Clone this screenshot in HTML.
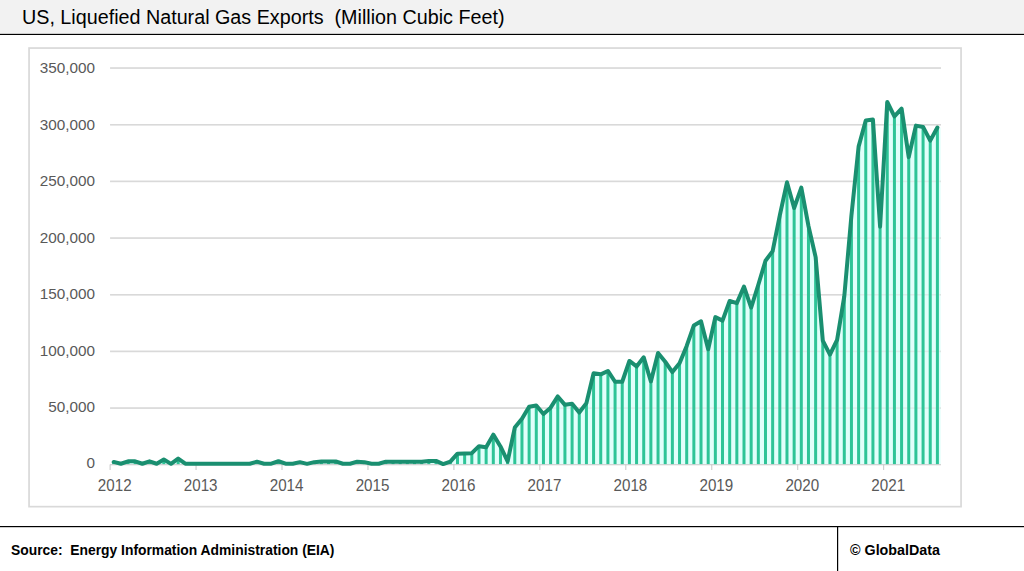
<!DOCTYPE html>
<html><head><meta charset="utf-8">
<style>
html,body{margin:0;padding:0;background:#fff;}
body{width:1024px;height:571px;overflow:hidden;position:relative;font-family:"Liberation Sans",sans-serif;}
svg{position:absolute;left:0;top:0;}
</style></head><body>
<svg width="1024" height="571" viewBox="0 0 1024 571">
<rect x="0" y="0" width="1024" height="33" fill="#f2f2f2"/>
<rect x="0" y="33.8" width="1024" height="1.2" fill="#000"/>
<text x="22" y="23.5" font-size="20" fill="#000" font-family="Liberation Sans" textLength="482.5" lengthAdjust="spacingAndGlyphs">US, Liquefied Natural Gas Exports&#160; (Million Cubic Feet)</text>
<rect x="29.05" y="48.05" width="932" height="458.6" fill="#fff" stroke="#d9d9d9" stroke-width="1.7"/>
<g fill="#d9d9d9"><rect x="110.1" y="407.33" width="830.9" height="1.5"/><rect x="110.1" y="350.66" width="830.9" height="1.5"/><rect x="110.1" y="293.99" width="830.9" height="1.5"/><rect x="110.1" y="237.32" width="830.9" height="1.5"/><rect x="110.1" y="180.65" width="830.9" height="1.5"/><rect x="110.1" y="123.98" width="830.9" height="1.5"/><rect x="110.1" y="67.31" width="830.9" height="1.5"/></g>
<path d="M113.68,464.75 L113.68,461.92 L120.84,463.73 L128.01,461.35 L135.17,461.35 L142.33,463.73 L149.49,461.35 L156.66,463.73 L163.82,459.54 L170.98,463.84 L178.15,458.52 L185.31,463.73 L192.47,463.73 L199.63,463.73 L206.80,463.73 L213.96,463.73 L221.12,463.73 L228.28,463.73 L235.45,463.73 L242.61,463.73 L249.77,463.73 L256.94,461.69 L264.10,463.73 L271.26,463.73 L278.42,461.24 L285.59,463.73 L292.75,463.73 L299.91,462.14 L307.07,463.84 L314.24,462.14 L321.40,461.46 L328.56,461.46 L335.73,461.46 L342.89,463.73 L350.05,463.73 L357.21,461.69 L364.38,462.14 L371.54,463.73 L378.70,463.73 L385.86,461.69 L393.03,461.69 L400.19,461.69 L407.35,461.69 L414.51,461.69 L421.68,461.69 L428.84,460.90 L436.00,460.90 L443.17,464.07 L450.33,461.58 L457.49,453.64 L464.65,453.42 L471.82,453.14 L478.98,446.15 L486.14,447.25 L493.30,434.65 L500.47,446.45 L507.63,461.45 L514.79,427.54 L521.96,418.85 L529.12,406.74 L536.28,405.44 L543.44,413.94 L550.61,407.64 L557.77,396.44 L564.93,404.84 L572.09,403.74 L579.26,412.55 L586.42,403.14 L593.58,373.34 L600.74,374.34 L607.91,370.94 L615.07,381.74 L622.23,381.74 L629.40,360.94 L636.56,366.44 L643.72,357.34 L650.88,381.45 L658.05,353.04 L665.21,361.74 L672.37,372.04 L679.53,363.33 L686.70,345.94 L693.86,325.43 L701.02,321.24 L708.19,349.26 L715.35,317.14 L722.51,320.64 L729.67,301.03 L736.84,303.14 L744.00,286.53 L751.16,307.54 L758.32,284.77 L765.49,260.74 L772.65,251.10 L779.81,215.42 L786.98,182.31 L794.14,208.01 L801.30,187.63 L808.46,225.92 L815.63,257.08 L822.79,340.54 L829.95,354.58 L837.11,339.91 L844.28,296.43 L851.44,215.40 L858.60,146.62 L865.76,120.41 L872.93,119.61 L880.09,226.72 L887.25,102.01 L894.42,116.41 L901.58,108.61 L908.74,157.12 L915.90,125.61 L923.07,126.92 L930.23,140.62 L937.39,127.52 L940.6,127.52 L940.6,464.75 Z" fill="#e1fffb"/>
<g fill="#d9d9d9" opacity="0.45"><rect x="110.1" y="407.33" width="830.9" height="1.5"/><rect x="110.1" y="350.66" width="830.9" height="1.5"/><rect x="110.1" y="293.99" width="830.9" height="1.5"/><rect x="110.1" y="237.32" width="830.9" height="1.5"/><rect x="110.1" y="180.65" width="830.9" height="1.5"/><rect x="110.1" y="123.98" width="830.9" height="1.5"/><rect x="110.1" y="67.31" width="830.9" height="1.5"/></g>
<g fill="#2ec497"><rect x="112.18" y="461.92" width="3.0" height="2.83"/><rect x="119.34" y="463.73" width="3.0" height="1.02"/><rect x="126.51" y="461.35" width="3.0" height="3.40"/><rect x="133.67" y="461.35" width="3.0" height="3.40"/><rect x="140.83" y="463.73" width="3.0" height="1.02"/><rect x="147.99" y="461.35" width="3.0" height="3.40"/><rect x="155.16" y="463.73" width="3.0" height="1.02"/><rect x="162.32" y="459.54" width="3.0" height="5.21"/><rect x="169.48" y="463.84" width="3.0" height="0.91"/><rect x="176.65" y="458.52" width="3.0" height="6.23"/><rect x="183.81" y="463.73" width="3.0" height="1.02"/><rect x="190.97" y="463.73" width="3.0" height="1.02"/><rect x="198.13" y="463.73" width="3.0" height="1.02"/><rect x="205.30" y="463.73" width="3.0" height="1.02"/><rect x="212.46" y="463.73" width="3.0" height="1.02"/><rect x="219.62" y="463.73" width="3.0" height="1.02"/><rect x="226.78" y="463.73" width="3.0" height="1.02"/><rect x="233.95" y="463.73" width="3.0" height="1.02"/><rect x="241.11" y="463.73" width="3.0" height="1.02"/><rect x="248.27" y="463.73" width="3.0" height="1.02"/><rect x="255.44" y="461.69" width="3.0" height="3.06"/><rect x="262.60" y="463.73" width="3.0" height="1.02"/><rect x="269.76" y="463.73" width="3.0" height="1.02"/><rect x="276.92" y="461.24" width="3.0" height="3.51"/><rect x="284.09" y="463.73" width="3.0" height="1.02"/><rect x="291.25" y="463.73" width="3.0" height="1.02"/><rect x="298.41" y="462.14" width="3.0" height="2.61"/><rect x="305.57" y="463.84" width="3.0" height="0.91"/><rect x="312.74" y="462.14" width="3.0" height="2.61"/><rect x="319.90" y="461.46" width="3.0" height="3.29"/><rect x="327.06" y="461.46" width="3.0" height="3.29"/><rect x="334.23" y="461.46" width="3.0" height="3.29"/><rect x="341.39" y="463.73" width="3.0" height="1.02"/><rect x="348.55" y="463.73" width="3.0" height="1.02"/><rect x="355.71" y="461.69" width="3.0" height="3.06"/><rect x="362.88" y="462.14" width="3.0" height="2.61"/><rect x="370.04" y="463.73" width="3.0" height="1.02"/><rect x="377.20" y="463.73" width="3.0" height="1.02"/><rect x="384.36" y="461.69" width="3.0" height="3.06"/><rect x="391.53" y="461.69" width="3.0" height="3.06"/><rect x="398.69" y="461.69" width="3.0" height="3.06"/><rect x="405.85" y="461.69" width="3.0" height="3.06"/><rect x="413.01" y="461.69" width="3.0" height="3.06"/><rect x="420.18" y="461.69" width="3.0" height="3.06"/><rect x="427.34" y="460.90" width="3.0" height="3.85"/><rect x="434.50" y="460.90" width="3.0" height="3.85"/><rect x="441.67" y="464.07" width="3.0" height="0.68"/><rect x="448.83" y="461.58" width="3.0" height="3.17"/><rect x="455.99" y="453.64" width="3.0" height="11.11"/><rect x="463.15" y="453.42" width="3.0" height="11.33"/><rect x="470.32" y="453.14" width="3.0" height="11.61"/><rect x="477.48" y="446.15" width="3.0" height="18.60"/><rect x="484.64" y="447.25" width="3.0" height="17.50"/><rect x="491.80" y="434.65" width="3.0" height="30.10"/><rect x="498.97" y="446.45" width="3.0" height="18.30"/><rect x="506.13" y="461.45" width="3.0" height="3.30"/><rect x="513.29" y="427.54" width="3.0" height="37.21"/><rect x="520.46" y="418.85" width="3.0" height="45.90"/><rect x="527.62" y="406.74" width="3.0" height="58.01"/><rect x="534.78" y="405.44" width="3.0" height="59.31"/><rect x="541.94" y="413.94" width="3.0" height="50.81"/><rect x="549.11" y="407.64" width="3.0" height="57.11"/><rect x="556.27" y="396.44" width="3.0" height="68.31"/><rect x="563.43" y="404.84" width="3.0" height="59.91"/><rect x="570.59" y="403.74" width="3.0" height="61.01"/><rect x="577.76" y="412.55" width="3.0" height="52.20"/><rect x="584.92" y="403.14" width="3.0" height="61.61"/><rect x="592.08" y="373.34" width="3.0" height="91.41"/><rect x="599.24" y="374.34" width="3.0" height="90.41"/><rect x="606.41" y="370.94" width="3.0" height="93.81"/><rect x="613.57" y="381.74" width="3.0" height="83.01"/><rect x="620.73" y="381.74" width="3.0" height="83.01"/><rect x="627.90" y="360.94" width="3.0" height="103.81"/><rect x="635.06" y="366.44" width="3.0" height="98.31"/><rect x="642.22" y="357.34" width="3.0" height="107.41"/><rect x="649.38" y="381.45" width="3.0" height="83.30"/><rect x="656.55" y="353.04" width="3.0" height="111.71"/><rect x="663.71" y="361.74" width="3.0" height="103.01"/><rect x="670.87" y="372.04" width="3.0" height="92.71"/><rect x="678.03" y="363.33" width="3.0" height="101.42"/><rect x="685.20" y="345.94" width="3.0" height="118.81"/><rect x="692.36" y="325.43" width="3.0" height="139.32"/><rect x="699.52" y="321.24" width="3.0" height="143.51"/><rect x="706.69" y="349.26" width="3.0" height="115.49"/><rect x="713.85" y="317.14" width="3.0" height="147.61"/><rect x="721.01" y="320.64" width="3.0" height="144.11"/><rect x="728.17" y="301.03" width="3.0" height="163.72"/><rect x="735.34" y="303.14" width="3.0" height="161.61"/><rect x="742.50" y="286.53" width="3.0" height="178.22"/><rect x="749.66" y="307.54" width="3.0" height="157.21"/><rect x="756.82" y="284.77" width="3.0" height="179.98"/><rect x="763.99" y="260.74" width="3.0" height="204.01"/><rect x="771.15" y="251.10" width="3.0" height="213.65"/><rect x="778.31" y="215.42" width="3.0" height="249.33"/><rect x="785.48" y="182.31" width="3.0" height="282.44"/><rect x="792.64" y="208.01" width="3.0" height="256.74"/><rect x="799.80" y="187.63" width="3.0" height="277.12"/><rect x="806.96" y="225.92" width="3.0" height="238.83"/><rect x="814.13" y="257.08" width="3.0" height="207.67"/><rect x="821.29" y="340.54" width="3.0" height="124.21"/><rect x="828.45" y="354.58" width="3.0" height="110.17"/><rect x="835.61" y="339.91" width="3.0" height="124.84"/><rect x="842.78" y="296.43" width="3.0" height="168.32"/><rect x="849.94" y="215.40" width="3.0" height="249.35"/><rect x="857.10" y="146.62" width="3.0" height="318.13"/><rect x="864.26" y="120.41" width="3.0" height="344.34"/><rect x="871.43" y="119.61" width="3.0" height="345.14"/><rect x="878.59" y="226.72" width="3.0" height="238.03"/><rect x="885.75" y="102.01" width="3.0" height="362.74"/><rect x="892.92" y="116.41" width="3.0" height="348.34"/><rect x="900.08" y="108.61" width="3.0" height="356.14"/><rect x="907.24" y="157.12" width="3.0" height="307.63"/><rect x="914.40" y="125.61" width="3.0" height="339.14"/><rect x="921.57" y="126.92" width="3.0" height="337.83"/><rect x="928.73" y="140.62" width="3.0" height="324.13"/><rect x="935.89" y="127.52" width="3.0" height="337.23"/></g>
<rect x="110.1" y="464.1" width="830.9" height="1.2" fill="#d0d0d0"/>
<g fill="#c8c8c8"><rect x="109.60" y="464.5" width="1" height="5.5"/><rect x="195.55" y="464.5" width="1" height="5.5"/><rect x="281.50" y="464.5" width="1" height="5.5"/><rect x="367.46" y="464.5" width="1" height="5.5"/><rect x="453.41" y="464.5" width="1" height="5.5"/><rect x="539.36" y="464.5" width="1" height="5.5"/><rect x="625.31" y="464.5" width="1" height="5.5"/><rect x="711.27" y="464.5" width="1" height="5.5"/><rect x="797.22" y="464.5" width="1" height="5.5"/><rect x="883.17" y="464.5" width="1" height="5.5"/></g>
<path d="M113.68,461.92 L120.84,463.73 L128.01,461.35 L135.17,461.35 L142.33,463.73 L149.49,461.35 L156.66,463.73 L163.82,459.54 L170.98,463.84 L178.15,458.52 L185.31,463.73 L192.47,463.73 L199.63,463.73 L206.80,463.73 L213.96,463.73 L221.12,463.73 L228.28,463.73 L235.45,463.73 L242.61,463.73 L249.77,463.73 L256.94,461.69 L264.10,463.73 L271.26,463.73 L278.42,461.24 L285.59,463.73 L292.75,463.73 L299.91,462.14 L307.07,463.84 L314.24,462.14 L321.40,461.46 L328.56,461.46 L335.73,461.46 L342.89,463.73 L350.05,463.73 L357.21,461.69 L364.38,462.14 L371.54,463.73 L378.70,463.73 L385.86,461.69 L393.03,461.69 L400.19,461.69 L407.35,461.69 L414.51,461.69 L421.68,461.69 L428.84,460.90 L436.00,460.90 L443.17,464.07 L450.33,461.58 L457.49,453.64 L464.65,453.42 L471.82,453.14 L478.98,446.15 L486.14,447.25 L493.30,434.65 L500.47,446.45 L507.63,461.45 L514.79,427.54 L521.96,418.85 L529.12,406.74 L536.28,405.44 L543.44,413.94 L550.61,407.64 L557.77,396.44 L564.93,404.84 L572.09,403.74 L579.26,412.55 L586.42,403.14 L593.58,373.34 L600.74,374.34 L607.91,370.94 L615.07,381.74 L622.23,381.74 L629.40,360.94 L636.56,366.44 L643.72,357.34 L650.88,381.45 L658.05,353.04 L665.21,361.74 L672.37,372.04 L679.53,363.33 L686.70,345.94 L693.86,325.43 L701.02,321.24 L708.19,349.26 L715.35,317.14 L722.51,320.64 L729.67,301.03 L736.84,303.14 L744.00,286.53 L751.16,307.54 L758.32,284.77 L765.49,260.74 L772.65,251.10 L779.81,215.42 L786.98,182.31 L794.14,208.01 L801.30,187.63 L808.46,225.92 L815.63,257.08 L822.79,340.54 L829.95,354.58 L837.11,339.91 L844.28,296.43 L851.44,215.40 L858.60,146.62 L865.76,120.41 L872.93,119.61 L880.09,226.72 L887.25,102.01 L894.42,116.41 L901.58,108.61 L908.74,157.12 L915.90,125.61 L923.07,126.92 L930.23,140.62 L937.39,127.52" fill="none" stroke="#1a8f70" stroke-width="4.0" stroke-linejoin="round" stroke-linecap="round"/>
<g font-size="15.3" fill="#595959" font-family="Liberation Sans" text-anchor="end"><text x="95" y="468.46">0</text><text x="95" y="411.98">50,000</text><text x="95" y="355.50">100,000</text><text x="95" y="299.02">150,000</text><text x="95" y="242.54">200,000</text><text x="95" y="186.06">250,000</text><text x="95" y="129.58">300,000</text><text x="95" y="73.10">350,000</text></g>
<g font-size="15.8" fill="#595959" font-family="Liberation Sans" text-anchor="middle"><text x="114.70" y="490.9" textLength="33.8" lengthAdjust="spacingAndGlyphs">2012</text><text x="200.65" y="490.9" textLength="33.8" lengthAdjust="spacingAndGlyphs">2013</text><text x="286.60" y="490.9" textLength="33.8" lengthAdjust="spacingAndGlyphs">2014</text><text x="372.56" y="490.9" textLength="33.8" lengthAdjust="spacingAndGlyphs">2015</text><text x="458.51" y="490.9" textLength="33.8" lengthAdjust="spacingAndGlyphs">2016</text><text x="544.46" y="490.9" textLength="33.8" lengthAdjust="spacingAndGlyphs">2017</text><text x="630.41" y="490.9" textLength="33.8" lengthAdjust="spacingAndGlyphs">2018</text><text x="716.37" y="490.9" textLength="33.8" lengthAdjust="spacingAndGlyphs">2019</text><text x="802.32" y="490.9" textLength="33.8" lengthAdjust="spacingAndGlyphs">2020</text><text x="888.27" y="490.9" textLength="33.8" lengthAdjust="spacingAndGlyphs">2021</text></g>
<rect x="0" y="526" width="1024" height="1.2" fill="#000"/>
<rect x="837" y="526" width="1.2" height="45" fill="#000"/>
<text x="11" y="554.6" font-size="14.5" font-weight="bold" fill="#000" font-family="Liberation Sans" textLength="323.5" lengthAdjust="spacingAndGlyphs">Source:&#160; Energy Information Administration (EIA)</text>
<text x="850" y="554.6" font-size="14.5" font-weight="bold" fill="#000" font-family="Liberation Sans" textLength="90" lengthAdjust="spacingAndGlyphs">&#169; GlobalData</text>
</svg>
</body></html>
